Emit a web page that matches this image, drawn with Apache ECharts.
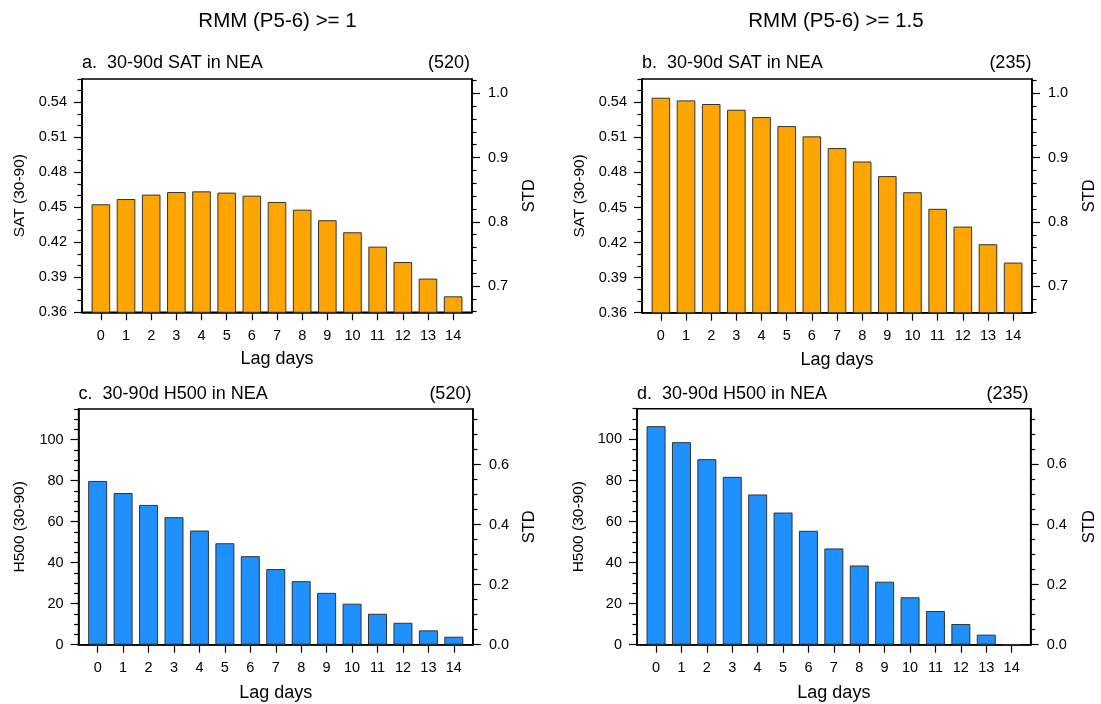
<!DOCTYPE html>
<html>
<head>
<meta charset="utf-8">
<script src="https://cdn.jsdelivr.net/npm/echarts@6/dist/echarts.min.js"></script>
<style>
html,body{margin:0;padding:0;background:#fff;}
#chart{width:1101px;height:704px;}
</style>
</head>
<body>
<div id="chart"></div>
<script>
// ---------------- data ----------------
const lagDays = [0, 1, 2, 3, 4, 5, 6, 7, 8, 9, 10, 11, 12, 13, 14];
const satRmm1 = [0.4526, 0.4571, 0.4609, 0.4631, 0.4637, 0.4626, 0.4600, 0.4546, 0.4480, 0.4389, 0.4286, 0.4163, 0.4031, 0.3889, 0.3737];
const satRmm15 = [0.5440, 0.5417, 0.5386, 0.5337, 0.5274, 0.5197, 0.5109, 0.5009, 0.4894, 0.4769, 0.4631, 0.4489, 0.4337, 0.4186, 0.4029];
const h500Rmm1 = [79.9, 74.0, 68.2, 62.2, 55.7, 49.5, 43.2, 36.9, 31.0, 25.3, 20.0, 15.1, 10.7, 7.0, 3.9];
const h500Rmm15 = [106.5, 98.7, 90.4, 81.8, 73.2, 64.4, 55.5, 46.9, 38.6, 30.7, 23.1, 16.4, 10.1, 4.9, 0.2];

const satTicks = [0.36, 0.39, 0.42, 0.45, 0.48, 0.51, 0.54];
const satStdTicks = [0.7, 0.8, 0.9, 1.0];
const h500Ticks = [0, 20, 40, 60, 80, 100];
const h500StdTicks = [0.0, 0.2, 0.4, 0.6];

const headings = ['RMM (P5-6) >= 1', 'RMM (P5-6) >= 1.5'];
const panelTitles = ['a.  30-90d SAT in NEA', 'b.  30-90d SAT in NEA', 'c.  30-90d H500 in NEA', 'd.  30-90d H500 in NEA'];
const sampleCounts = ['(520)', '(235)', '(520)', '(235)'];
const xName = 'Lag days';
const yNames = ['SAT (30-90)', 'SAT (30-90)', 'H500 (30-90)', 'H500 (30-90)'];
const stdName = 'STD';

// ---------------- layout / style ----------------
const FONT = "'Liberation Sans', Arial, Helvetica, sans-serif";
const ORANGE = '#FFA500';
const BLUE = '#1E90FF';

function range(a, b, step, exclude) {
  const out = [];
  const n = Math.round((b - a) / step);
  for (let i = 0; i <= n; i++) {
    const v = +(a + i * step).toFixed(6);
    if (!exclude.some(e => Math.abs(e - v) < 1e-9)) out.push(v);
  }
  return out;
}

const panels = [
  { rect: {left: 82, top: 79, width: 390, height: 233.3},
    data: satRmm1, color: ORANGE, yMin: 0.36, yMax: 0.56, yTicks: satTicks, yDec: 2,
    yMinor: range(0.36, 0.56, 0.01, satTicks),
    rMin: 0.659, rMax: 1.0223, rTicks: satStdTicks, rDec: 1, rMinor: range(0.66, 1.02, 0.02, satStdTicks),
    barW: 18.6, yGap: 54.6, rGap: 48.6, xGap: 38 },
  { rect: {left: 642, top: 79, width: 390, height: 233.7},
    data: satRmm15, color: ORANGE, yMin: 0.36, yMax: 0.56, yTicks: satTicks, yDec: 2,
    yMinor: range(0.36, 0.56, 0.01, satTicks),
    rMin: 0.659, rMax: 1.0223, rTicks: satStdTicks, rDec: 1, rMinor: range(0.66, 1.02, 0.02, satStdTicks),
    barW: 18.6, yGap: 54.3, rGap: 49.4, xGap: 38 },
  { rect: {left: 78.6, top: 409, width: 394.3, height: 235.7},
    data: h500Rmm1, color: BLUE, yMin: 0, yMax: 115, yTicks: h500Ticks, yDec: 0,
    yMinor: range(0, 115, 5, h500Ticks),
    rMin: 0, rMax: 0.7857, rTicks: h500StdTicks, rDec: 1, rMinor: range(0, 0.75, 0.05, h500StdTicks),
    barW: 19, yGap: 51.2, rGap: 48.4, xGap: 39 },
  { rect: {left: 637, top: 408.7, width: 393.7, height: 236},
    data: h500Rmm15, color: BLUE, yMin: 0, yMax: 115, yTicks: h500Ticks, yDec: 0,
    yMinor: range(0, 115, 5, h500Ticks),
    rMin: 0, rMax: 0.7857, rTicks: h500StdTicks, rDec: 1, rMinor: range(0, 0.75, 0.05, h500StdTicks),
    barW: 19, yGap: 50.4, rGap: 50.7, xGap: 39 }
];

const titlePos = [
  {l: 82, r: 470, top: 54},
  {l: 642, r: 1031.4, top: 54},
  {l: 78.6, r: 471.4, top: 385.5},
  {l: 637, r: 1028.6, top: 385.5}
];

const grid = [], xAxis = [], yAxis = [], series = [], title = [];
const tickStyle = {color: '#000', width: 1.2};
const labelStyle = {color: '#000', fontFamily: FONT, fontSize: 14.5};
const lineStyle = {color: '#000', width: 1.6};

headings.forEach((h, i) => {
  title.push({text: h, left: i === 0 ? 277.5 : 836, top: 10.5, textAlign: 'center', padding: 0,
    textStyle: {fontFamily: FONT, fontSize: 20.5, fontWeight: 'normal', color: '#000'}});
});

panels.forEach((p, i) => {
  const gMain = grid.length;
  grid.push(Object.assign({show: true, borderColor: '#000', borderWidth: 1.6, containLabel: false}, p.rect));
  const gMinor = grid.length;
  grid.push(Object.assign({show: false, containLabel: false}, p.rect));

  // main axes
  const xMain = xAxis.length;
  xAxis.push({gridIndex: gMain, type: 'value', min: -0.75, max: 14.75, position: 'bottom',
    name: xName, nameLocation: 'middle', nameGap: p.xGap,
    nameTextStyle: {fontFamily: FONT, fontSize: 18, color: '#000'},
    axisLine: {show: true, onZero: false, lineStyle},
    axisTick: {show: true, inside: false, length: 8, lineStyle: tickStyle, customValues: lagDays},
    axisLabel: Object.assign({show: true, margin: 16, customValues: lagDays, formatter: v => String(v)}, labelStyle),
    splitLine: {show: false}});
  const yLeft = yAxis.length;
  yAxis.push({gridIndex: gMain, type: 'value', position: 'left', min: p.yMin, max: p.yMax,
    name: yNames[i], nameLocation: 'middle', nameGap: p.yGap, nameRotate: 90,
    nameTextStyle: {fontFamily: FONT, fontSize: 15.5, color: '#000'},
    axisLine: {show: true, onZero: false, lineStyle},
    axisTick: {show: true, inside: false, length: 8, lineStyle: tickStyle, customValues: p.yTicks},
    axisLabel: Object.assign({show: true, margin: 15, customValues: p.yTicks, formatter: v => v.toFixed(p.yDec)}, labelStyle),
    splitLine: {show: false}});
  yAxis.push({gridIndex: gMain, type: 'value', position: 'right', min: p.rMin, max: p.rMax,
    name: stdName, nameLocation: 'middle', nameGap: p.rGap, nameRotate: 90,
    nameTextStyle: {fontFamily: FONT, fontSize: 16.5, color: '#000'},
    axisLine: {show: true, onZero: false, lineStyle},
    axisTick: {show: true, inside: false, length: 8, lineStyle: tickStyle, customValues: p.rTicks},
    axisLabel: Object.assign({show: true, margin: 16, customValues: p.rTicks, formatter: v => v.toFixed(p.rDec)}, labelStyle),
    splitLine: {show: false}});

  // minor tick axes
  xAxis.push({gridIndex: gMinor, type: 'value', min: -0.75, max: 14.75, show: false});
  yAxis.push({gridIndex: gMinor, type: 'value', position: 'left', min: p.yMin, max: p.yMax,
    axisLine: {show: false, onZero: false},
    axisTick: {show: true, inside: false, length: 4.5, lineStyle: tickStyle, customValues: p.yMinor},
    axisLabel: {show: false}, splitLine: {show: false}});
  yAxis.push({gridIndex: gMinor, type: 'value', position: 'right', min: p.rMin, max: p.rMax,
    axisLine: {show: false, onZero: false},
    axisTick: {show: true, inside: false, length: 4.5, lineStyle: tickStyle, customValues: p.rMinor},
    axisLabel: {show: false}, splitLine: {show: false}});

  series.push({type: 'bar', xAxisIndex: xMain, yAxisIndex: yLeft,
    data: lagDays.map((d, k) => [d, p.data[k]]),
    barWidth: p.barW, clip: true,
    itemStyle: {color: p.color, borderColor: '#333', borderWidth: 1},
    emphasis: {disabled: true}, animation: false});

  title.push({text: panelTitles[i], left: titlePos[i].l, top: titlePos[i].top, padding: 0,
    textStyle: {fontFamily: FONT, fontSize: 18, fontWeight: 'normal', color: '#000'}});
  title.push({text: sampleCounts[i], right: 1101 - titlePos[i].r, top: titlePos[i].top, padding: 0,
    textStyle: {fontFamily: FONT, fontSize: 18, fontWeight: 'normal', color: '#000'}});
});

const chart = echarts.init(document.getElementById('chart'), null, {renderer: 'canvas'});
chart.setOption({animation: false, backgroundColor: '#fff', title, grid, xAxis, yAxis, series, tooltip: {show: false}});
</script>
</body>
</html>
